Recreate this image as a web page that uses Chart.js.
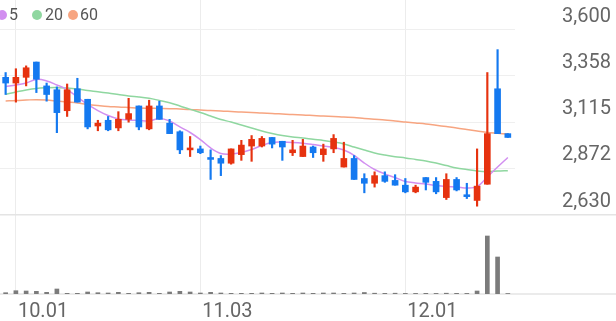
<!DOCTYPE html>
<html>
<head>
<meta charset="utf-8">
<script src="https://cdn.jsdelivr.net/npm/chart.js@4"></script>
<style>
  body { margin: 0; background: #fff; }
  #wrap { position: relative; width: 616px; height: 321px; overflow: hidden; }
  #legend { position: absolute; left: 0; top: 0; font-family: Roboto, sans-serif; font-size: 16px; color: #555; }
  #legend .dot { position: absolute; top: 10px; width: 10px; height: 10px; border-radius: 50%; }
  #legend .txt { position: absolute; top: 7px; line-height: 16px; }
</style>
</head>
<body>
<div id="wrap">
  <canvas id="chart" width="616" height="321"></canvas>
  <div id="legend">
    <span class="dot" style="left:-3px;background:#d28ff0"></span><span class="txt" style="left:9px">5</span>
    <span class="dot" style="left:31.5px;background:#8fd7a0"></span><span class="txt" style="left:45px">20</span>
    <span class="dot" style="left:68px;background:#f7a581"></span><span class="txt" style="left:80px">60</span>
  </div>
</div>
<script>
    // trading days, 2025.09.30 ~ 2025.12.15
    const dates = ['09.30','10.01','10.02','10.10','10.13','10.14','10.15','10.16','10.17','10.20',
        '10.21','10.22','10.23','10.24','10.27','10.28','10.29','10.30','10.31','11.03',
        '11.04','11.05','11.06','11.07','11.10','11.11','11.12','11.13','11.14','11.17',
        '11.18','11.19','11.20','11.21','11.24','11.25','11.26','11.27','11.28','12.01',
        '12.02','12.03','12.04','12.05','12.08','12.09','12.10','12.11','12.12','12.15'];

    const openPrice = [3350,3320,3350,3430,3305,3285,3175,3290,3235,3095,
        3125,3085,3130,3200,3080,3200,3110,3065,2970,2975,
        2930,2925,2900,2945,2990,2990,3035,3015,2955,2935,
        2985,2945,2975,2880,2925,2820,2795,2835,2810,2785,
        2750,2825,2805,2720,2815,2735,2705,2790,3290,3055];
    const highPrice = [3375,3395,3410,3430,3320,3300,3315,3345,3235,3125,
        3145,3170,3240,3200,3230,3225,3130,3070,3040,2990,
        2970,2940,2975,3020,3045,3040,3035,3015,3020,3025,
        2990,3000,3050,3010,2940,2845,2855,2855,2840,2820,
        2785,2825,2825,2845,2825,2795,2975,3375,3495,3055];
    const lowPrice = [3260,3220,3305,3270,3225,3060,3145,3220,3080,3070,
        3070,3070,3115,3075,3075,3130,3055,2950,2935,2950,
        2815,2835,2895,2915,2910,2985,2980,2915,2940,2935,
        2930,2910,2955,2880,2815,2745,2775,2800,2785,2745,
        2745,2760,2740,2710,2755,2715,2675,2790,3055,3035];
    const closePrice = [3320,3350,3400,3340,3260,3165,3285,3220,3090,3110,
        3075,3130,3160,3090,3200,3130,3055,2970,2980,2955,
        2920,2900,2975,2995,3025,3030,3000,2985,2970,2990,
        2955,2975,3030,2925,2815,2795,2835,2805,2785,2750,
        2775,2800,2750,2815,2760,2725,2780,3055,3055,3035];

    const volume = [26000,66000,60000,54000,34000,100000,14000,14000,40000,26000,
        20000,34000,14000,26000,34000,14000,40000,54000,40000,20000,
        34000,20000,14000,14000,14000,20000,14000,20000,14000,20000,
        14000,20000,20000,14000,20000,30000,16000,14000,16000,12000,
        12000,14000,12000,16000,14000,12000,60000,1160000,740000,10000];

    const ma5 = [3301,3310,3320,3339,3331,3310,3286,3247,3208,3176,
        3150,3132,3127,3124,3121,3134,3121,3090,3061,3024,
        2980,2951,2948,2956,2972,2993,3009,3011,3009,3005,
        2998,2990,2983,2969,2941,2901,2867,2844,2825,2804,
        2797,2791,2783,2778,2776,2770,2777,2828,2880,2930];
    const ma20 = [3261,3273,3284,3292,3295,3296,3294,3289,3281,3275,
        3268,3260,3252,3247,3240,3229,3217,3200,3182,3166,
        3147,3129,3116,3100,3085,3069,3056,3045,3037,3032,
        3025,3019,3011,3001,2985,2969,2954,2943,2934,2928,
        2920,2912,2901,2888,2875,2867,2859,2856,2859,2861];
    const ma60 = [3226,3229,3231,3233,3231,3226,3221,3216,3208,3202,
        3197,3195,3192,3189,3188,3187,3186,3184,3182,3179,
        3176,3174,3171,3168,3166,3163,3161,3158,3155,3153,
        3150,3147,3145,3142,3140,3134,3130,3127,3121,3116,
        3111,3106,3099,3092,3085,3077,3069,3061,3057,3053];

    const priceTicks = [2630, 2872.5, 3115, 3357.5, 3600];
    const priceTickLabels = ['2,630', '2,872', '3,115', '3,358', '3,600'];
    const dateTicks = [1, 19, 39];

    const RED = '#e6320f';
    const BLUE = '#1479f0';
    const FONT = {family: 'Roboto', size: 20};

    let bodies = [];
    let wicks = [];
    let vols = [];
    let colors = [];
    for (let i = 0; i < dates.length; i++) {
        bodies.push({x: i, y: [openPrice[i], closePrice[i]]});
        wicks.push({x: i, y: [lowPrice[i], highPrice[i]]});
        vols.push({x: i, y: volume[i]});
        colors.push(closePrice[i] >= openPrice[i] ? RED : BLUE);
    }

    function maLine(values, color, order) {
        return {
            type: 'line',
            data: values.map((v, i) => ({x: i, y: v})),
            borderColor: color,
            borderWidth: 1.5,
            pointRadius: 0,
            tension: 0.35,
            yAxisID: 'y',
            order: order
        };
    }

    // separator under price panel + volume baseline, full canvas width
    const panelLines = {
        id: 'panelLines',
        beforeDatasetsDraw(chart) {
            const ctx = chart.ctx;
            const yPrice = chart.scales.y.getPixelForValue(priceTicks[0]);
            const yVol = chart.scales.yv.getPixelForValue(0);
            ctx.save();
            ctx.strokeStyle = '#e4e4e4';
            ctx.lineWidth = 1.5;
            [yPrice, yVol].forEach(y => {
                ctx.beginPath();
                ctx.moveTo(0, y);
                ctx.lineTo(chart.width, y);
                ctx.stroke();
            });
            ctx.restore();
        }
    };

    new Chart(document.getElementById('chart'), {
        type: 'bar',
        data: {
            datasets: [
                maLine(ma60, '#f7a581', 5),
                maLine(ma20, '#8fd7a0', 4),
                maLine(ma5, '#d28ff0', 3),
                {
                    data: wicks,
                    backgroundColor: colors,
                    barThickness: 1.5,
                    minBarLength: 1,
                    grouped: false,
                    yAxisID: 'y',
                    order: 2
                },
                {
                    data: bodies,
                    backgroundColor: colors,
                    barThickness: 6,
                    minBarLength: 1.5,
                    grouped: false,
                    yAxisID: 'y',
                    order: 1
                },
                {
                    data: vols,
                    backgroundColor: '#7b7b7b',
                    barThickness: 4,
                    grouped: false,
                    yAxisID: 'yv',
                    order: 6
                }
            ]
        },
        options: {
            responsive: false,
            animation: false,
            layout: {padding: {right: 5}},
            plugins: {
                legend: {display: false},
                tooltip: {enabled: false}
            },
            scales: {
                x: {
                    type: 'linear',
                    offset: false,
                    min: -0.55,
                    max: 49.7,
                    afterBuildTicks: s => { s.ticks = dateTicks.map(v => ({value: v})); },
                    afterFit: s => { s.height = 27; s.paddingLeft = 0; s.paddingRight = 0; },
                    ticks: {
                        callback: v => dates[v],
                        align: 'start',
                        labelOffset: 2,
                        padding: 6,
                        autoSkip: false,
                        maxRotation: 0,
                        color: '#666',
                        font: FONT
                    },
                    grid: {color: '#ececec', drawTicks: false, offset: false},
                    border: {display: false}
                },
                y: {
                    position: 'right',
                    min: 2215,
                    max: 3755,
                    afterBuildTicks: s => { s.ticks = priceTicks.map(v => ({value: v})); },
                    afterFit: s => { s.width = 96; s.paddingTop = 0; s.paddingBottom = 0; },
                    ticks: {
                        callback: (v, i) => priceTickLabels[i],
                        crossAlign: 'far',
                        labelOffset: -13,
                        color: '#666',
                        font: FONT
                    },
                    grid: {color: '#efefef', drawTicks: false},
                    border: {display: false}
                },
                yv: {
                    display: false,
                    min: 0,
                    max: 5880000
                }
            }
        },
        plugins: [panelLines]
    });
</script>
</body>
</html>
